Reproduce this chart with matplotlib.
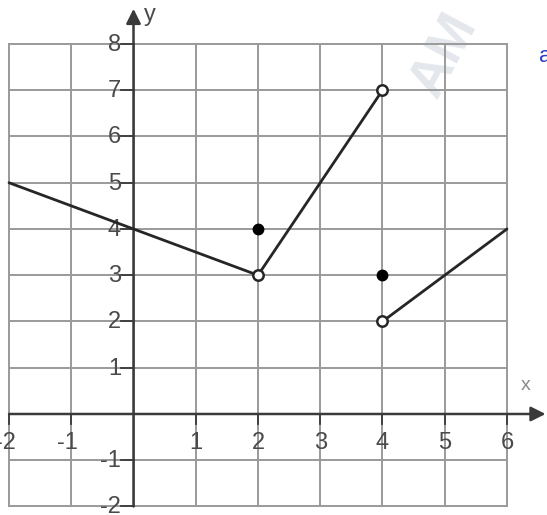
import matplotlib
matplotlib.use("Agg")
import matplotlib.pyplot as plt

plt.rcParams['font.family'] = ['Liberation Sans', 'DejaVu Sans']

# Piecewise function pieces
seg1_x = [-2, 2]
seg1_y = [5, 3]
seg2_x = [2, 4]
seg2_y = [3, 7]
seg3_x = [4, 6]
seg3_y = [2, 4]
open_x = [2, 4, 4]
open_y = [3, 7, 2]
closed_x = [2, 4]
closed_y = [4, 3]

x_ticks = [-2, -1, 1, 2, 3, 4, 5, 6]
y_ticks = [-2, -1, 1, 2, 3, 4, 5, 6, 7, 8]

fig = plt.figure(figsize=(5.47, 5.15), dpi=100)
ax = fig.add_axes([0, 0, 1, 1])
ax.set_xlim(-2.145, 6.643)
ax.set_ylim(-2.184, 8.951)
ax.axis('off')

grid_c = '#9a9a9a'
axis_c = '#3a3a3a'
text_c = '#4a4a4a'

# grid
for gx in range(-2, 7):
    ax.plot([gx, gx], [-2, 8], color=grid_c, lw=1.4, zorder=1)
for gy in range(-2, 9):
    ax.plot([-2, 6], [gy, gy], color=grid_c, lw=1.4, zorder=1)

# faint watermark
ax.text(5.0, 7.75, 'AM', rotation=62, fontsize=40, color='#e4e8ec',
        ha='center', va='center', fontweight='bold', zorder=0.5)
ax.text(6.52, 7.72, 'a', fontsize=16, color='#2a3fc0', ha='left', va='center', zorder=3)

# axes with arrows
ax.annotate('', xy=(6.62, 0), xytext=(-2, 0),
            arrowprops=dict(arrowstyle='-|>', color=axis_c, lw=1.8,
                            mutation_scale=22, shrinkA=0, shrinkB=0), zorder=2)
ax.annotate('', xy=(0, 8.76), xytext=(0, -2),
            arrowprops=dict(arrowstyle='-|>', color=axis_c, lw=1.8,
                            mutation_scale=22, shrinkA=0, shrinkB=0), zorder=2)
ax.text(0.17, 8.62, 'y', fontsize=17, color=text_c, ha='left', va='center')
ax.text(6.3, 0.62, 'x', fontsize=14, color='#8a8a8a', ha='center', va='center')

# tick marks and labels
for t in x_ticks:
    ax.plot([t, t], [0, -0.22], color=axis_c, lw=1.3, zorder=2)
    lbl = str(t).replace('\u2212', '-')
    off = -0.065 if t < 0 else 0
    ax.text(t + off, -0.62, lbl, fontsize=17, color=text_c, ha='center', va='center', zorder=3)
for t in y_ticks:
    ax.plot([-0.2, 0], [t, t], color=axis_c, lw=1.3, zorder=2)
    ax.text(-0.2, t - 0.02, str(t), fontsize=17, color=text_c, ha='right', va='center', zorder=3)

# function graph
lc = '#262626'
for xs, ys in [(seg1_x, seg1_y), (seg2_x, seg2_y), (seg3_x, seg3_y)]:
    ax.plot(xs, ys, color=lc, lw=2, zorder=4, solid_capstyle='round')
ax.plot(open_x, open_y, 'o', ms=7.5, mfc='white', mec=lc, mew=1.8, zorder=5)
ax.plot(closed_x, closed_y, 'o', ms=7.5, mfc='black', mec='black', zorder=5)

fig.savefig('out.png', dpi=100)
